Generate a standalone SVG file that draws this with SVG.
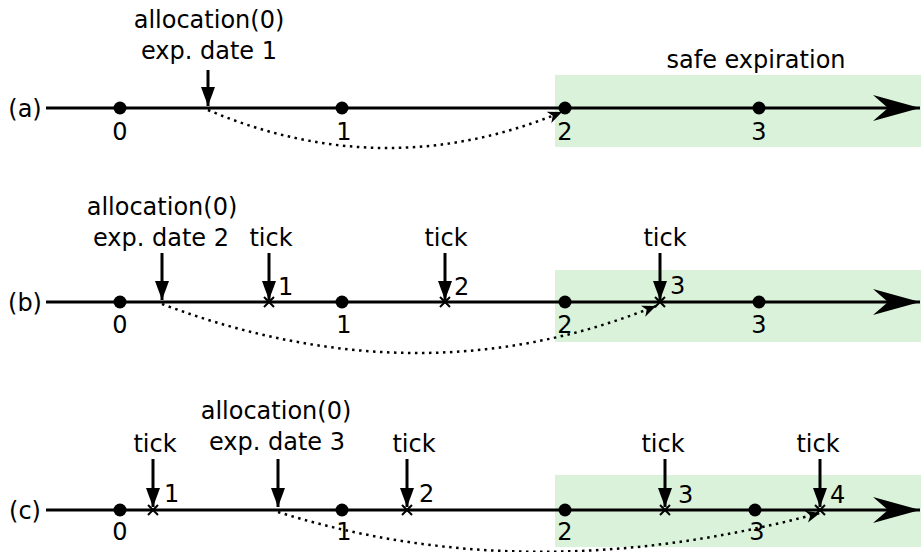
<svg xmlns="http://www.w3.org/2000/svg" width="921" height="552" viewBox="0 0 921 552">
<style>
text{font-family:"DejaVu Sans",sans-serif;font-size:24px;fill:#000;text-anchor:middle}
.lab{text-anchor:start}
.axis{stroke:#000;stroke-width:3;fill:none}
.arr{stroke:#000;stroke-width:3;fill:none}
.dot{fill:#000}
.x{stroke:#000;stroke-width:2;fill:none}
.dotted{stroke:#000;stroke-width:2.5;fill:none;stroke-dasharray:2.5 4.5}
.safe{fill:#d9f2d9}
</style>
<defs>
<marker id="bigHead" markerUnits="userSpaceOnUse" markerWidth="50" markerHeight="30" refX="47" refY="13" orient="auto">
<path d="M0,0 L47,13 L0,26 L15,13 Z" fill="#000"/>
</marker>
<marker id="downHead" markerUnits="userSpaceOnUse" markerWidth="16" markerHeight="22" refX="7" refY="19" orient="0">
<path d="M0,0 L7,19 L14,0 Z" fill="#000"/>
</marker>
<marker id="smallHead" markerUnits="userSpaceOnUse" markerWidth="16" markerHeight="14" refX="14" refY="6" orient="auto">
<path d="M0,0 L14,6 L0,12 L4,6 Z" fill="#000"/>
</marker>
</defs>

<rect class="safe" x="555" y="75" width="366" height="72"/>
<rect class="safe" x="555" y="270" width="366" height="72"/>
<rect class="safe" x="555" y="475" width="366" height="72"/>

<g id="row-a">
<text x="25" y="117">(a)</text>
<line class="axis" x1="46" y1="108" x2="920" y2="108" marker-end="url(#bigHead)"/>
<circle class="dot" cx="120" cy="108" r="6.5"/>
<circle class="dot" cx="342" cy="108" r="6.5"/>
<circle class="dot" cx="565" cy="108" r="6.5"/>
<circle class="dot" cx="759" cy="108" r="6.5"/>
<text x="120" y="140">0</text>
<text x="344" y="140">1</text>
<text x="565" y="140">2</text>
<text x="759" y="140">3</text>
<text x="756" y="68">safe expiration</text>
<text x="209" y="28">allocation(0)</text>
<text x="209" y="59">exp. date 1</text>
<line class="arr" x1="208" y1="70" x2="208" y2="106" marker-end="url(#downHead)"/>
</g>

<g id="row-b">
<text x="25" y="311">(b)</text>
<line class="axis" x1="46" y1="302" x2="920" y2="302" marker-end="url(#bigHead)"/>
<circle class="dot" cx="120" cy="302" r="6.5"/>
<circle class="dot" cx="342" cy="302" r="6.5"/>
<circle class="dot" cx="565" cy="302" r="6.5"/>
<circle class="dot" cx="759" cy="302" r="6.5"/>
<text x="120" y="333">0</text>
<text x="344" y="333">1</text>
<text x="565" y="333">2</text>
<text x="759" y="333">3</text>
<text x="162" y="215">allocation(0)</text>
<text x="161" y="246">exp. date 2</text>
<line class="arr" x1="162" y1="253" x2="162" y2="300" marker-end="url(#downHead)"/>
<text x="271" y="246">tick</text>
<line class="arr" x1="269" y1="253" x2="269" y2="300" marker-end="url(#downHead)"/>
<path class="x" d="M264,297 L274,307 M274,297 L264,307"/>
<text class="lab" x="278" y="295">1</text>
<text x="446" y="246">tick</text>
<line class="arr" x1="445" y1="253" x2="445" y2="300" marker-end="url(#downHead)"/>
<path class="x" d="M440,297 L450,307 M450,297 L440,307"/>
<text class="lab" x="454" y="295">2</text>
<text x="665" y="246">tick</text>
<line class="arr" x1="660" y1="253" x2="660" y2="300" marker-end="url(#downHead)"/>
<path class="x" d="M655,297 L665,307 M665,297 L655,307"/>
<text class="lab" x="670" y="294">3</text>
</g>

<g id="row-c">
<text x="25" y="519">(c)</text>
<line class="axis" x1="46" y1="510" x2="920" y2="510" marker-end="url(#bigHead)"/>
<circle class="dot" cx="120" cy="510" r="6.5"/>
<circle class="dot" cx="342" cy="510" r="6.5"/>
<circle class="dot" cx="565" cy="510" r="6.5"/>
<circle class="dot" cx="755" cy="510" r="6.5"/>
<text x="120" y="540">0</text>
<text x="344" y="540">1</text>
<text x="565" y="540">2</text>
<text x="757" y="540">3</text>
<text x="276" y="419">allocation(0)</text>
<text x="277" y="450">exp. date 3</text>
<line class="arr" x1="278" y1="459" x2="278" y2="507" marker-end="url(#downHead)"/>
<text x="155" y="452">tick</text>
<line class="arr" x1="153" y1="459" x2="153" y2="507" marker-end="url(#downHead)"/>
<path class="x" d="M148,505 L158,515 M158,505 L148,515"/>
<text class="lab" x="164" y="502">1</text>
<text x="414" y="452">tick</text>
<line class="arr" x1="407" y1="459" x2="407" y2="507" marker-end="url(#downHead)"/>
<path class="x" d="M402,505 L412,515 M412,505 L402,515"/>
<text class="lab" x="419" y="502">2</text>
<text x="663" y="452">tick</text>
<line class="arr" x1="665" y1="459" x2="665" y2="507" marker-end="url(#downHead)"/>
<path class="x" d="M660,505 L670,515 M670,505 L660,515"/>
<text class="lab" x="678" y="503">3</text>
<text x="818" y="452">tick</text>
<line class="arr" x1="820" y1="459" x2="820" y2="507" marker-end="url(#downHead)"/>
<path class="x" d="M815,505 L825,515 M825,505 L815,515"/>
<text class="lab" x="830" y="503">4</text>
</g>

<g id="connectors">
<path class="dotted" d="M208,110 Q385,185 562,112" marker-end="url(#smallHead)"/>
<path class="dotted" d="M162,304 Q420,401 656,306" marker-end="url(#smallHead)"/>
<path class="dotted" d="M278,512 Q530,591 820,513" marker-end="url(#smallHead)"/>
</g>
</svg>
